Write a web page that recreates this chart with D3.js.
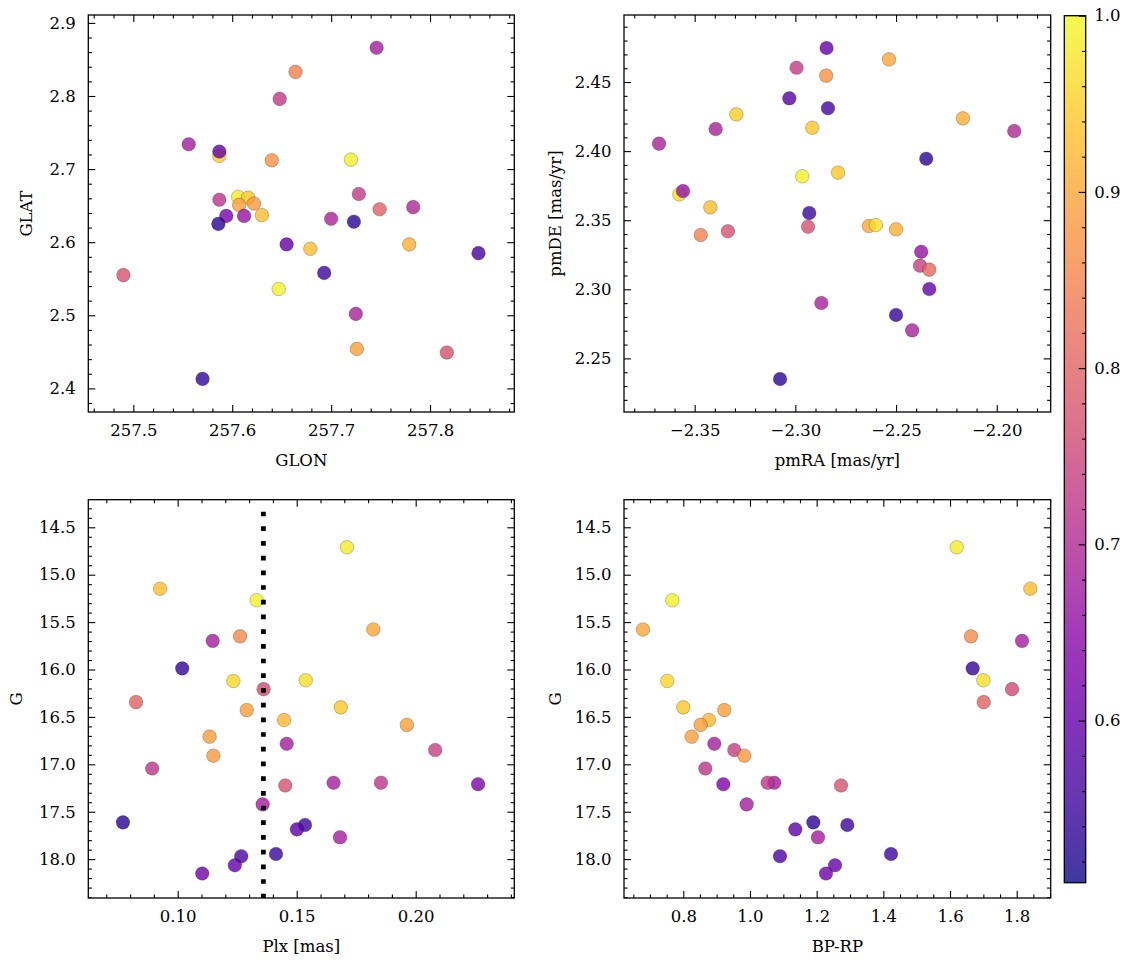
<!DOCTYPE html>
<html><head><meta charset="utf-8">
<script src="https://cdn.jsdelivr.net/npm/d3@7"></script>
<style>
body{margin:0;background:#fff}
svg{display:block}
text{font-family:"DejaVu Serif",serif;font-size:16.5px;fill:#000}
</style>
</head><body><svg id="c" width="1133" height="965"></svg>
<script>
// ---------- DATA ----------
// Panel 1: sky positions
const glon = [257.746,257.664,257.648,257.556,257.587,257.587,257.640,257.720,257.728,257.587,257.606,257.616,257.607,257.622,257.630,257.594,257.612,257.586,257.749,257.783,257.700,257.723,257.655,257.679,257.779,257.849,257.693,257.490,257.647,257.725,257.726,257.817,257.570];
const glat = [2.866,2.833,2.796,2.734,2.718,2.724,2.712,2.713,2.666,2.658,2.662,2.661,2.651,2.653,2.637,2.636,2.636,2.625,2.645,2.648,2.632,2.628,2.597,2.591,2.597,2.585,2.558,2.555,2.536,2.502,2.454,2.449,2.413];
const probSky = [0.68,0.85,0.73,0.68,0.95,0.60,0.87,0.99,0.73,0.72,0.98,0.94,0.89,0.88,0.93,0.62,0.66,0.53,0.80,0.70,0.69,0.53,0.60,0.93,0.91,0.56,0.55,0.77,0.99,0.69,0.89,0.77,0.54];

// Panel 2: proper motions
const pmra = [-2.2845,-2.2994,-2.2847,-2.2535,-2.3030,-2.2838,-2.3293,-2.3396,-2.2916,-2.2168,-2.1913,-2.3677,-2.2350,-2.2966,-2.2788,-2.3576,-2.3558,-2.3422,-2.2931,-2.2937,-2.3470,-2.3335,-2.2635,-2.2600,-2.2500,-2.2375,-2.2381,-2.2335,-2.2335,-2.2871,-2.2500,-2.2420,-2.3076];
const pmde = [2.4746,2.4603,2.4546,2.4664,2.4382,2.4310,2.4266,2.4160,2.4169,2.4237,2.4145,2.4054,2.3945,2.3818,2.3844,2.3687,2.3711,2.3593,2.3552,2.3453,2.3393,2.3420,2.3458,2.3465,2.3434,2.3272,2.3171,2.3142,2.3002,2.2901,2.2814,2.2703,2.2351];
const probPM = [0.60,0.73,0.87,0.90,0.58,0.56,0.95,0.69,0.94,0.91,0.70,0.69,0.53,0.99,0.94,0.97,0.66,0.93,0.55,0.77,0.85,0.77,0.90,0.97,0.91,0.66,0.74,0.81,0.60,0.69,0.54,0.69,0.53];

// Panels 3 & 4: parallax, colour, magnitude
const plx  = [0.1711,0.0926,0.1332,0.1822,0.1147,0.1262,0.1019,0.1234,0.1538,0.1361,0.0825,0.1290,0.1685,0.1447,0.1963,0.1134,0.1458,0.2082,0.1150,0.0893,0.1452,0.1655,0.1854,0.2262,0.1357,0.0770,0.1535,0.1501,0.1682,0.1267,0.1413,0.1240,0.1103];
const bprp = [1.620,1.841,0.767,0.679,1.816,1.663,1.668,0.752,1.700,1.786,1.701,0.923,0.800,0.877,0.852,0.825,0.893,0.953,0.983,0.866,1.273,1.073,1.053,0.920,0.990,1.190,1.292,1.136,1.204,1.090,1.423,1.255,1.228];
const gmag = [14.711,15.148,15.270,15.578,15.698,15.650,15.988,16.121,16.114,16.207,16.344,16.428,16.399,16.533,16.584,16.708,16.783,16.849,16.909,17.044,17.223,17.194,17.194,17.210,17.422,17.612,17.640,17.686,17.770,17.969,17.946,18.065,18.152];
const probPhot = [0.98,0.93,0.99,0.90,0.68,0.86,0.54,0.96,0.97,0.76,0.80,0.89,0.94,0.92,0.89,0.89,0.68,0.74,0.88,0.72,0.77,0.68,0.72,0.63,0.68,0.53,0.55,0.59,0.68,0.57,0.55,0.60,0.61];

const plxCut = 0.136;        // dotted reference parallax
const plxCutG = [14.335, 18.41];
const probRange = [0.508, 1.0];
const cbarTicks = [0.6, 0.7, 0.8, 0.9, 1.0];

// ---------- DRAW ----------
const svg = d3.select("#c");
const color = d3.scaleSequential(d3.interpolatePlasma).domain(probRange);
const ALPHA = 0.8;
const FS = 16.5;

function mult(step, d) {
  const lo = Math.min(d[0], d[1]), hi = Math.max(d[0], d[1]);
  const out = [];
  for (let k = Math.ceil(lo / step - 1e-9); k <= Math.floor(hi / step + 1e-9); k++) out.push(+(k * step).toFixed(6));
  return out;
}
function minors(step, majorStep, d) {
  return mult(step, d).filter(v => Math.abs(v / majorStep - Math.round(v / majorStep)) > 1e-6);
}

function panel(c) {
  const x = d3.scaleLinear().domain(c.xd).range([c.l, c.r]);
  const y = d3.scaleLinear().domain(c.yd).range([c.b, c.t]);
  const g = svg.append("g");
  const xMaj = mult(c.xStep, c.xd), xMin = minors(c.xMinor, c.xStep, c.xd);
  const yMaj = mult(c.yStep, c.yd), yMin = minors(c.yMinor, c.yStep, c.yd);

  // points
  const pts = d3.range(c.xs.length);
  g.append("g").selectAll("circle").data(pts).join("circle")
    .attr("cx", i => x(c.xs[i])).attr("cy", i => y(c.ys[i])).attr("r", 6.8)
    .attr("fill", i => color(c.ps[i])).attr("fill-opacity", ALPHA)
    .attr("stroke", "#000").attr("stroke-width", 0.5).attr("stroke-opacity", 0.45);

  if (c.extra) c.extra(g, x, y);

  const addAxis = (axis, tr) => {
    const a = g.append("g").attr("transform", tr).call(axis);
    a.select(".domain").remove();
    a.selectAll(".tick line").attr("stroke", "#000").attr("stroke-width", 1.1);
    a.selectAll("text").attr("font-family", "DejaVu Serif").attr("font-size", FS).attr("fill", "#000");
    return a;
  };
  const M = 7, m = 3.6;
  addAxis(d3.axisBottom(x).tickValues(xMaj).tickSize(-M).tickPadding(12).tickFormat(d3.format(c.xfmt)), `translate(0,${c.b})`);
  addAxis(d3.axisBottom(x).tickValues(xMin).tickSize(-m).tickFormat(""), `translate(0,${c.b})`);
  addAxis(d3.axisTop(x).tickValues(xMaj).tickSize(-M).tickFormat(""), `translate(0,${c.t})`);
  addAxis(d3.axisTop(x).tickValues(xMin).tickSize(-m).tickFormat(""), `translate(0,${c.t})`);
  addAxis(d3.axisLeft(y).tickValues(yMaj).tickSize(-M).tickPadding(12.5).tickFormat(d3.format(c.yfmt)), `translate(${c.l},0)`);
  addAxis(d3.axisLeft(y).tickValues(yMin).tickSize(-m).tickFormat(""), `translate(${c.l},0)`);
  addAxis(d3.axisRight(y).tickValues(yMaj).tickSize(-M).tickFormat(""), `translate(${c.r},0)`);
  addAxis(d3.axisRight(y).tickValues(yMin).tickSize(-m).tickFormat(""), `translate(${c.r},0)`);

  g.append("rect").attr("x", c.l).attr("y", c.t).attr("width", c.r - c.l).attr("height", c.b - c.t)
    .attr("fill", "none").attr("stroke", "#000").attr("stroke-width", 1.3);

  g.append("text").attr("x", (c.l + c.r) / 2).attr("y", c.b + 54).attr("text-anchor", "middle").text(c.xlabel);
  g.append("text").attr("transform", `translate(${c.l - c.ylabOff},${(c.t + c.b) / 2}) rotate(-90)`)
    .attr("text-anchor", "middle").attr("dominant-baseline", "central").text(c.ylabel);
}

const L1 = 88.3, R1 = 514.3, L2 = 624, R2 = 1050.7, T1 = 15, B1 = 412, T2 = 499.7, B2 = 898;

panel({l: L1, r: R1, t: T1, b: B1, xd: [257.4545, 257.8852], yd: [2.3677, 2.9108],
  xStep: 0.1, xMinor: 0.02, yStep: 0.1, yMinor: 0.02, xfmt: ".1f", yfmt: ".1f",
  xlabel: "GLON", ylabel: "GLAT", ylabOff: 61.5, xs: glon, ys: glat, ps: probSky});

panel({l: L2, r: R2, t: T1, b: B1, xd: [-2.3851, -2.1732], yd: [2.2112, 2.4985],
  xStep: 0.05, xMinor: 0.01, yStep: 0.05, yMinor: 0.01, xfmt: ".2f", yfmt: ".2f",
  xlabel: "pmRA [mas/yr]", ylabel: "pmDE [mas/yr]", ylabOff: 69, xs: pmra, ys: pmde, ps: probPM});

panel({l: L1, r: R1, t: T2, b: B2, xd: [0.06244, 0.24143], yd: [18.41, 14.209],
  xStep: 0.05, xMinor: 0.01, yStep: 0.5, yMinor: 0.1, xfmt: ".2f", yfmt: ".1f",
  xlabel: "Plx [mas]", ylabel: "G", ylabOff: 72, xs: plx, ys: gmag, ps: probPhot,
  extra: (g, x, y) => {
    g.append("line").attr("x1", x(plxCut)).attr("x2", x(plxCut))
      .attr("y1", y(plxCutG[0])).attr("y2", y(plxCutG[1]))
      .attr("stroke", "#000").attr("stroke-width", 4.8).attr("stroke-dasharray", "4.7 10");
  }});

panel({l: L2, r: R2, t: T2, b: B2, xd: [0.6221, 1.902], yd: [18.41, 14.209],
  xStep: 0.2, xMinor: 0.05, yStep: 0.5, yMinor: 0.1, xfmt: ".1f", yfmt: ".1f",
  xlabel: "BP-RP", ylabel: "G", ylabOff: 69, xs: bprp, ys: gmag, ps: probPhot});

// ---------- COLORBAR ----------
const cbL = 1064.3, cbR = 1085.7, cbT = 15.7, cbB = 882.7;
const cy = d3.scaleLinear().domain(probRange).range([cbB, cbT]);
const grad = svg.append("defs").append("linearGradient").attr("id", "plasma")
  .attr("x1", 0).attr("y1", 1).attr("x2", 0).attr("y2", 0);
d3.range(0, 1.0001, 0.02).forEach(t => grad.append("stop").attr("offset", t).attr("stop-color", d3.interpolatePlasma(t)));
const cb = svg.append("g");
cb.append("rect").attr("x", cbL).attr("y", cbT).attr("width", cbR - cbL).attr("height", cbB - cbT)
  .attr("fill", "url(#plasma)").attr("fill-opacity", ALPHA);
const cbAx = cb.append("g").attr("transform", `translate(${cbR},0)`)
  .call(d3.axisRight(cy).tickValues(cbarTicks).tickSize(-7).tickPadding(8.6).tickFormat(d3.format(".1f")));
cbAx.select(".domain").remove();
cbAx.selectAll(".tick line").attr("stroke", "#000").attr("stroke-width", 1.1);
cbAx.selectAll("text").attr("font-family", "DejaVu Serif").attr("font-size", FS);
const cbMin = cb.append("g").attr("transform", `translate(${cbR},0)`)
  .call(d3.axisRight(cy).tickValues(minors(0.02, 0.1, probRange)).tickSize(-3.6).tickFormat(""));
cbMin.select(".domain").remove();
cbMin.selectAll(".tick line").attr("stroke", "#000").attr("stroke-width", 1.1);
cb.append("rect").attr("x", cbL).attr("y", cbT).attr("width", cbR - cbL).attr("height", cbB - cbT)
  .attr("fill", "none").attr("stroke", "#000").attr("stroke-width", 1.3);
</script></body></html>
